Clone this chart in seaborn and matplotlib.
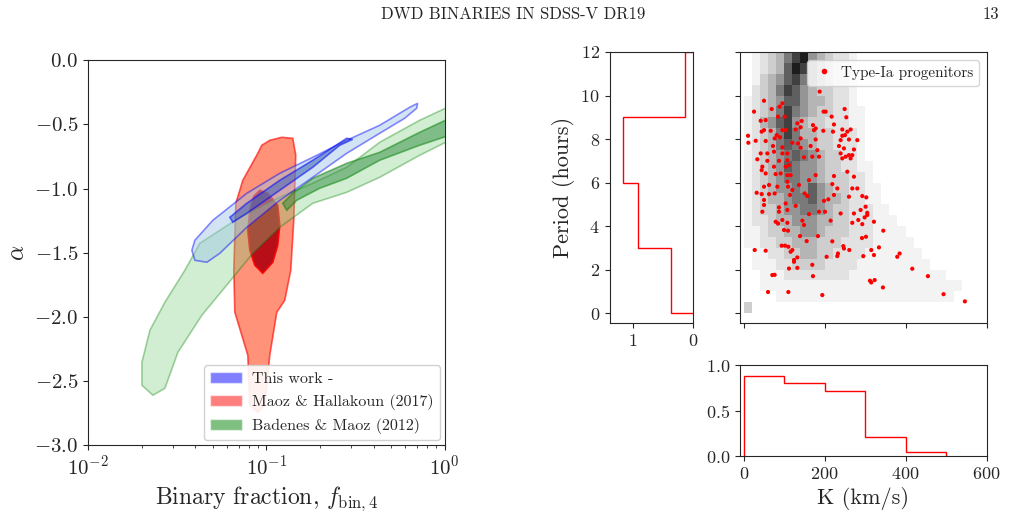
import numpy as np
import matplotlib
matplotlib.use("Agg")
import matplotlib.pyplot as plt
from matplotlib.patches import Polygon, Patch
from matplotlib.lines import Line2D
import seaborn as sns
import pandas as pd

sns.set_style("ticks")
plt.rcParams["font.family"] = "serif"
plt.rcParams["font.serif"] = ["cmr10", "DejaVu Serif"]
plt.rcParams["mathtext.fontset"] = "cm"
plt.rcParams["axes.formatter.use_mathtext"] = True
plt.rcParams["axes.unicode_minus"] = True

# ---- left panel contour outlines, digitised readings (u: f_bin reading, v: alpha reading) ----
green_out_u = [142, 150, 165, 185, 200, 240, 280, 313, 347, 380, 420, 450, 450, 420, 380, 347, 313, 280, 253, 235, 202, 178, 165, 153, 142]
green_out_v = [362, 330, 302, 270, 243, 217, 197, 183, 167, 142, 120, 106, 140, 155, 177, 192, 203, 227, 253, 275, 315, 352, 388, 395, 385]
green_in_u = [283, 293, 313, 347, 380, 420, 450, 450, 420, 380, 347, 320, 297, 287]
green_in_v = [203, 193, 178, 163, 152, 132, 118, 135, 145, 160, 178, 188, 200, 210]
blue_out_u = [192, 195, 213, 247, 280, 313, 347, 380, 410, 418, 417, 405, 380, 347, 313, 280, 247, 220, 207, 195]
blue_out_v = [250, 240, 220, 193, 173, 157, 140, 125, 107, 103, 108, 118, 133, 153, 177, 200, 227, 253, 262, 260]
blue_in_u = [230, 247, 280, 313, 347, 353, 340, 313, 280, 247, 233]
blue_in_v = [217, 203, 180, 160, 138, 139, 145, 167, 190, 213, 222]
red_out_u = [270, 282, 293, 296, 294, 291, 285, 277, 270, 265, 258, 250, 248, 235, 234, 236, 243, 258, 262]
red_out_v = [140, 137, 138, 155, 220, 270, 300, 312, 355, 405, 412, 405, 355, 312, 270, 203, 180, 153, 145]
red_in_u = [260, 268, 278, 280, 278, 273, 263, 255, 250, 248, 250, 254]
red_in_v = [190, 193, 205, 225, 245, 262, 273, 265, 250, 230, 210, 196]
legend_labels = ["This work -", "Maoz & Hallakoun (2017)", "Badenes & Maoz (2012)"]

def to_logf(u):
    return -2 + (np.array(u) - 88) / 178.5

def to_alpha(v):
    return -(np.array(v) - 60) / 128.3

# ---- right panels ----
period_edges = [0, 3, 6, 9, 12]
period_hist = [0.37, 0.91, 1.17, 0.14]
k_edges = [0, 100, 200, 300, 400, 500]
k_hist = [0.88, 0.80, 0.72, 0.21, 0.04]

# gray density: rows from P=11.5-12 down to 0-0.5; columns K in 20 km/s bins from 0
density_rows = [
    "012346895432210000000000000",
    "012347985432110000000000000",
    "013457865432210000000000000",
    "023468754332210000000000000",
    "123457754432210000000000000",
    "123468654332211000000000000",
    "124578543322211000000000000",
    "123468644332221000000000000",
    "123467654332221000000000000",
    "123456765433221000000000000",
    "123457655433221100000000000",
    "123456655433322100000000000",
    "123455657543322110000000000",
    "123445667544322110000000000",
    "123345566543322211000000000",
    "122344555443322211100000000",
    "112334455433322211110000000",
    "112233444333222211111000000",
    "011223344332222111111100000",
    "011122333322221111111110000",
    "001112222222211111111111100",
    "001111111111111111111111111",
    "000011111111111111111111110",
    "300000000000000000000000000",
]

# red points, digitised readings
pts_raw = [(357,155),(190,182),(160,215),(213,207),(245,190),(237,200),(369,215),(375,215),(432,207),(437,232),(393,230),(180,242),(195,240),(232,230),(252,230),(290,250),(303,243),(337,255),(345,265),(300,262),(285,268),(400,253),(425,268),(450,268),(190,270),(210,272),(183,275),(245,270),(255,270),(340,270),(368,272),(397,275),(440,275),(142,287),(228,285),(238,292),(222,295),(300,295),(345,298),(425,287),(433,285),(420,300),(445,298),(470,300),(143,308),(165,302),(195,303),(217,318),(245,322),(275,308),(292,310),(300,323),(330,318),(415,318),(430,325),(460,328),(180,340),(200,340),(220,335),(245,340),(260,340),(350,330),(355,350),(420,340),(435,350),(445,345),(455,345),(170,358),(200,362),(235,362),(260,360),(310,352),(335,350),(425,355),(450,355),(185,380),(220,380),(255,380),(265,375),(183,390),(195,400),(225,402),(240,400),(260,405),(270,405),(345,405),(400,408),(440,395),(460,410),(190,440),(205,435),(230,440),(262,440),(260,425),(275,450),(295,435),(325,420),(395,432),(410,445),(455,445),(470,445),(168,458),(183,462),(205,462),(222,460),(268,465),(312,460),(320,468),(370,482),(383,478),(400,465),(445,470),(485,468),(497,472),(190,480),(235,502),(255,490),(260,510),(285,497),(325,522),(355,515),(373,515),(390,542),(420,520),(460,520),(480,510),(495,500),(500,518),(473,540),(190,495),(185,515),(235,515),(225,545),(245,540),(260,548),(232,550),(305,542),(310,555),(455,548),(485,552),(492,532),(500,525),(520,545),(548,572),(250,570),(262,572),(298,588),(318,603),(352,588),(395,604),(484,594),(496,590),(162,630),(195,632),(243,617),(253,617),(263,620),(275,630),(270,635),(290,652),(280,660),(280,665),(335,674),(378,650),(412,640),(410,648),(428,618),(430,625),(446,630),(488,648),(512,630),(520,645),(535,622),(590,650),(597,640),(635,686),(682,708),(265,685),(290,683),(215,705),(222,704),(337,708),(508,722),(512,727),(522,720),(547,742),(202,756),(263,756),(365,765),(729,762),(793,784)]
k_points = [round((a - 129) / 1.215, 1) for a, b in pts_raw]
p_points = [round((819 - b) / 65.25, 2) for a, b in pts_raw]

fig = plt.figure(figsize=(10.16, 5.2), dpi=100)

# ---------- left panel ----------
ax = fig.add_axes([0.0866, 0.144, 0.351, 0.740])
def poly(us, vs, fc, ec, alpha, z):
    xy = np.column_stack([10 ** to_logf(us), to_alpha(vs)])
    ax.add_patch(Polygon(xy, closed=True, facecolor=fc, edgecolor=ec, alpha=alpha, lw=1.2, zorder=z))
poly(red_out_u, red_out_v, "#ff4f25", "red", 0.62, 1)
poly(red_in_u, red_in_v, "#b00010", "red", 0.9, 2)
poly(green_out_u, green_out_v, "#7fcf7f", "green", 0.35, 3)
poly(green_in_u, green_in_v, "#2e8b3e", "green", 0.5, 4)
poly(blue_out_u, blue_out_v, "#9cc4e6", "blue", 0.45, 5)
poly(blue_in_u, blue_in_v, "#3a62b8", "blue", 0.55, 6)
ax.set_xscale("log")
ax.set_xlim(1e-2, 1)
ax.set_ylim(-3, 0)
ax.set_yticks(np.arange(-3, 0.01, 0.5))
ax.tick_params(labelsize=15)
ax.set_xlabel(r"Binary fraction, $f_{\rm bin,4}$", fontsize=17)
ax.set_ylabel(r"$\alpha$", fontsize=17)
handles = [Patch(facecolor="blue", alpha=0.5), Patch(facecolor="red", alpha=0.5), Patch(facecolor="green", alpha=0.5)]
leg = ax.legend(handles, legend_labels, loc="lower right", fontsize=11.5, framealpha=0.9,
                handlelength=2.0, handletextpad=0.6, borderaxespad=0.3)
leg.set_zorder(10)

# ---------- left histogram ----------
axh = fig.add_axes([0.600, 0.379, 0.082, 0.521])
axh.stairs(period_hist, period_edges, orientation="horizontal", color="red", lw=1, baseline=0)
axh.set_xlim(1.39, 0)
axh.set_ylim(-0.45, 12)
axh.set_yticks(range(0, 13, 2))
axh.set_xticks([1, 0])
axh.tick_params(labelsize=13)
axh.set_ylabel("Period (hours)", fontsize=16)

# ---------- scatter ----------
axs = fig.add_axes([0.728, 0.379, 0.243, 0.521])
dens = np.array([[int(c) for c in r.ljust(27, "0")[:27]] for r in density_rows[::-1]], dtype=float)
dens = np.ma.masked_where(dens == 0, dens)
axs.pcolormesh(np.arange(0, 541, 20), np.arange(0, 12.01, 0.5), dens, cmap="Greys", vmin=0, vmax=10, zorder=1)
df = pd.DataFrame({"K": k_points, "P": p_points})
sns.scatterplot(data=df, x="K", y="P", ax=axs, color="red", s=9, edgecolor="none", zorder=3, legend=False)
axs.set_xlim(-10, 600)
axs.set_ylim(-0.45, 12)
axs.set_xticks([0, 200, 400, 600])
axs.set_yticks(range(0, 13, 2))
axs.set_xticklabels([])
axs.set_yticklabels([])
axs.set_xlabel("")
axs.set_ylabel("")
axs.legend([Line2D([], [], ls="", marker="o", color="red", ms=3)], ["Type-Ia progenitors"],
           loc="upper right", fontsize=11, handletextpad=0.3, handlelength=1.5)

# ---------- bottom histogram ----------
axb = fig.add_axes([0.728, 0.123, 0.243, 0.175])
axb.stairs(k_hist, k_edges, color="red", lw=1, baseline=0)
axb.set_xlim(-10, 600)
axb.set_ylim(0, 1)
axb.set_yticks([0, 0.5, 1.0])
axb.set_xticks([0, 200, 400, 600])
axb.tick_params(labelsize=13)
axb.set_xlabel("K (km/s)", fontsize=16)

fig.text(0.505, 0.972, "DWD BINARIES IN SDSS-V DR19", ha="center", va="center", fontsize=12)
fig.text(0.975, 0.972, "13", ha="center", va="center", fontsize=12)

fig.savefig("out.png", dpi=100)
